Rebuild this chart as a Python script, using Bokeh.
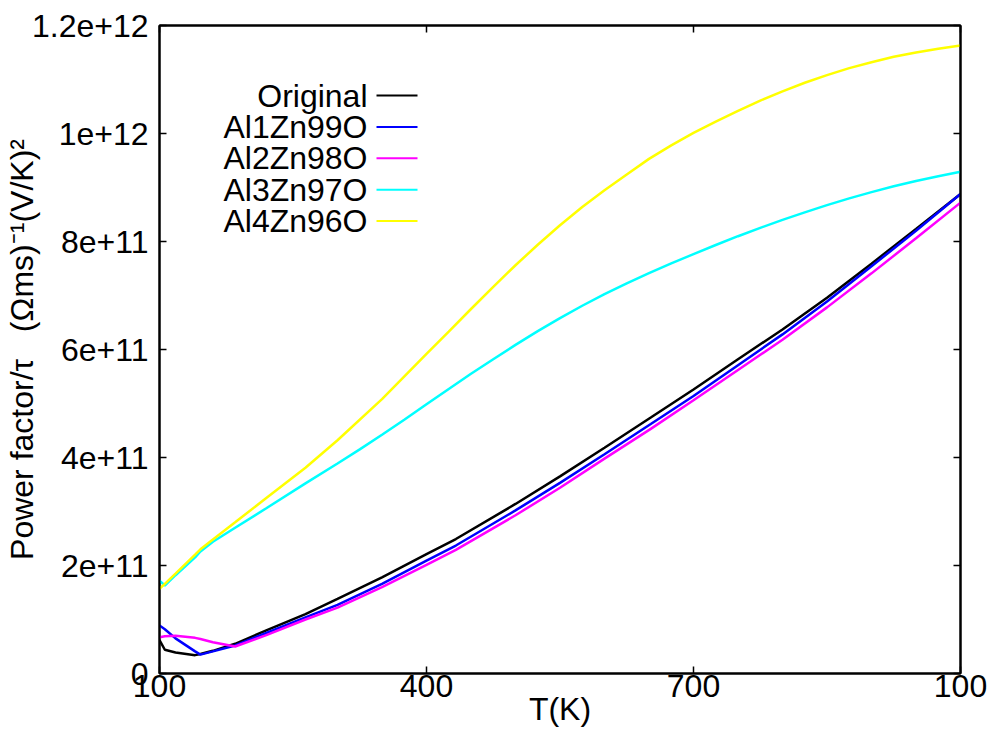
from bokeh.plotting import figure
from bokeh.models import Range1d, FixedTicker, LinearAxis, Label, Arrow
from bokeh.embed import file_html
from bokeh.resources import INLINE

# ---- data ----
# temperatures for the three lower curves
temperature = [100, 106, 118, 140, 146, 160, 185, 220, 264, 300, 350, 400, 433,
               500, 550, 600, 652, 700, 750, 800, 850, 900, 950, 1000]

original = [6.2e10, 4.4e10, 3.9e10, 3.4e10, 3.6e10, 4.2e10, 5.5e10, 8.0e10, 1.10e11,
            1.38e11, 1.78e11, 2.21e11, 2.49e11, 3.14e11, 3.65e11, 4.18e11, 4.74e11,
            5.26e11, 5.82e11, 6.37e11, 6.96e11, 7.59e11, 8.23e11, 8.88e11]

al1zn99o = [8.9e10, 8.2e10, 6.5e10, 4.1e10, 3.5e10, 4.1e10, 5.2e10, 7.5e10, 1.04e11,
            1.27e11, 1.66e11, 2.09e11, 2.37e11, 3.02e11, 3.53e11, 4.06e11, 4.62e11,
            5.14e11, 5.71e11, 6.28e11, 6.89e11, 7.54e11, 8.20e11, 8.88e11]

al2zn98o = [6.7e10, 6.9e10, 7.0e10, 6.6e10, 6.4e10, 5.8e10, 5.0e10, 7.1e10, 1.00e11,
            1.22e11, 1.60e11, 2.01e11, 2.29e11, 2.93e11, 3.44e11, 3.98e11, 4.53e11,
            5.06e11, 5.62e11, 6.18e11, 6.78e11, 7.41e11, 8.06e11, 8.72e11]

# temperatures for the cyan curve
temperature_cyan = [100, 106, 118, 140, 146, 160, 185, 220, 264, 300, 325, 350, 375,
                    400, 425, 450, 475, 500, 525, 550, 575, 600, 625, 650, 675, 700,
                    725, 750, 775, 800, 825, 850, 875, 900, 925, 950, 975, 1000]

al3zn97o = [1.72e11, 1.63e11, 1.82e11, 2.15e11, 2.26e11, 2.44e11, 2.70e11, 3.06e11,
            3.52e11, 3.89e11, 4.15e11, 4.42e11, 4.70e11, 4.985e11, 5.27e11, 5.55e11,
            5.82e11, 6.085e11, 6.34e11, 6.58e11, 6.81e11, 7.025e11, 7.225e11, 7.415e11,
            7.595e11, 7.765e11, 7.935e11, 8.098e11, 8.253e11, 8.40e11, 8.54e11,
            8.673e11, 8.798e11, 8.915e11, 9.022e11, 9.12e11, 9.208e11, 9.29e11]

# temperatures for the yellow curve
temperature_yellow = [100, 106, 118, 140, 146, 160, 185, 220, 264, 300, 350, 400,
                      425, 450, 475, 500, 525, 550, 575, 600, 625, 650, 675, 700,
                      725, 750, 775, 800, 825, 850, 875, 900, 925, 950, 975, 1000]

al4zn96o = [1.57e11, 1.66e11, 1.85e11, 2.20e11, 2.30e11, 2.48e11, 2.80e11, 3.25e11,
            3.81e11, 4.32e11, 5.08e11, 5.92e11,
            6.33e11, 6.75e11, 7.16e11, 7.56e11, 7.94e11, 8.30e11, 8.64e11, 8.95e11,
            9.24e11, 9.53e11, 9.78e11, 1.001e12, 1.022e12, 1.042e12, 1.061e12,
            1.078e12, 1.094e12, 1.108e12, 1.121e12, 1.132e12, 1.142e12, 1.150e12,
            1.157e12, 1.163e12]

series_names = ["Original", "Al1Zn99O", "Al2Zn98O", "Al3Zn97O", "Al4Zn96O"]
series_x = [temperature, temperature, temperature, temperature_cyan, temperature_yellow]
series_values = [original, al1zn99o, al2zn98o, al3zn97o, al4zn96o]
series_colors = ["#000000", "#0000ff", "#ff00ff", "#00ffff", "#ffff00"]

x_ticks = [100, 400, 700, 1000]
x_tick_labels = ["100", "400", "700", "100"]
y_ticks = [0, 200000000000, 400000000000, 600000000000, 800000000000,
           1000000000000, 1200000000000]
y_tick_labels = ["0", "2e+11", "4e+11", "6e+11", "8e+11", "1e+12", "1.2e+12"]

FONT = "Liberation Sans"
FS = "32px"

p = figure(frame_width=801, frame_height=648,
           x_range=Range1d(100, 1000), y_range=Range1d(0, 1.2e12),
           output_backend="svg", toolbar_location=None,
           min_border_left=159, min_border_top=25,
           min_border_right=27, min_border_bottom=58,
           background_fill_color="white", border_fill_color="white")

p.grid.visible = False
p.outline_line_color = "black"
p.outline_line_width = 2

# bottom axis
xa = p.xaxis[0]
xa.ticker = FixedTicker(ticks=x_ticks)
xa.major_label_overrides = {t: s for t, s in zip(x_ticks, x_tick_labels)}
xa.axis_label = "T(K)"
xa.axis_label_text_font = FONT
xa.axis_label_text_font_size = FS
xa.axis_label_text_font_style = "normal"
xa.axis_label_text_color = "black"
xa.axis_label_standoff = -9
xa.major_label_text_font = FONT
xa.major_label_text_font_size = FS
xa.major_label_text_color = "black"
xa.major_label_standoff = 1
xa.major_tick_in = 7
xa.major_tick_out = 0
xa.minor_tick_in = 0
xa.minor_tick_out = 0
xa.axis_line_width = 2
xa.axis_line_color = "black"
xa.major_tick_line_width = 1.5
xa.major_tick_line_color = "black"

# left axis
ya = p.yaxis[0]
ya.ticker = FixedTicker(ticks=y_ticks)
ya.major_label_overrides = {t: s for t, s in zip(y_ticks, y_tick_labels)}
ya.axis_label = "Power factor/\u03c4\u00a0\u00a0\u00a0(\u03a9ms)\u207b\u00b9(V/K)\u00b2"
ya.axis_label_text_font = FONT
ya.axis_label_text_font_size = FS
ya.axis_label_text_font_style = "normal"
ya.axis_label_text_color = "black"
ya.axis_label_standoff = -11
ya.major_label_text_font = FONT
ya.major_label_text_font_size = FS
ya.major_label_text_color = "black"
ya.major_label_standoff = 11
ya.major_tick_in = 7
ya.major_tick_out = 0
ya.minor_tick_in = 0
ya.minor_tick_out = 0
ya.axis_line_width = 2
ya.axis_line_color = "black"
ya.major_tick_line_width = 1.5
ya.major_tick_line_color = "black"

# mirrored axes (ticks only, no labels)
top = LinearAxis(ticker=FixedTicker(ticks=x_ticks),
                 major_label_overrides={t: "" for t in x_ticks},
                 major_label_text_font_size="0px",
                 major_label_standoff=0, major_tick_in=7, major_tick_out=0,
                 minor_tick_in=0, minor_tick_out=0, axis_line_width=2,
                 major_tick_line_width=1.5)
p.add_layout(top, "above")
right = LinearAxis(ticker=FixedTicker(ticks=y_ticks),
                   major_label_overrides={t: "" for t in y_ticks},
                   major_label_text_font_size="0px",
                   major_label_standoff=0, major_tick_in=7, major_tick_out=0,
                   minor_tick_in=0, minor_tick_out=0, axis_line_width=2,
                   major_tick_line_width=1.5)
p.add_layout(right, "right")

for xs, vals, col in zip(series_x, series_values, series_colors):
    p.line(xs, vals, line_color=col, line_width=2.5)

# legend: text right-aligned, line sample to the right (screen units, frame-relative)
for i, (name, col) in enumerate(zip(series_names, series_colors)):
    ys = 578 - i * 31.4
    p.add_layout(Label(x=208, y=ys, x_units="screen", y_units="screen", text=name,
                       text_align="right", text_baseline="middle",
                       text_font=FONT, text_font_size=FS, text_color="black"))
    p.add_layout(Arrow(x_start=217, y_start=ys, x_end=258, y_end=ys,
                       start_units="screen", end_units="screen", end=None,
                       line_color=col, line_width=2))

open("out.html", "w").write(file_html(p, INLINE))
